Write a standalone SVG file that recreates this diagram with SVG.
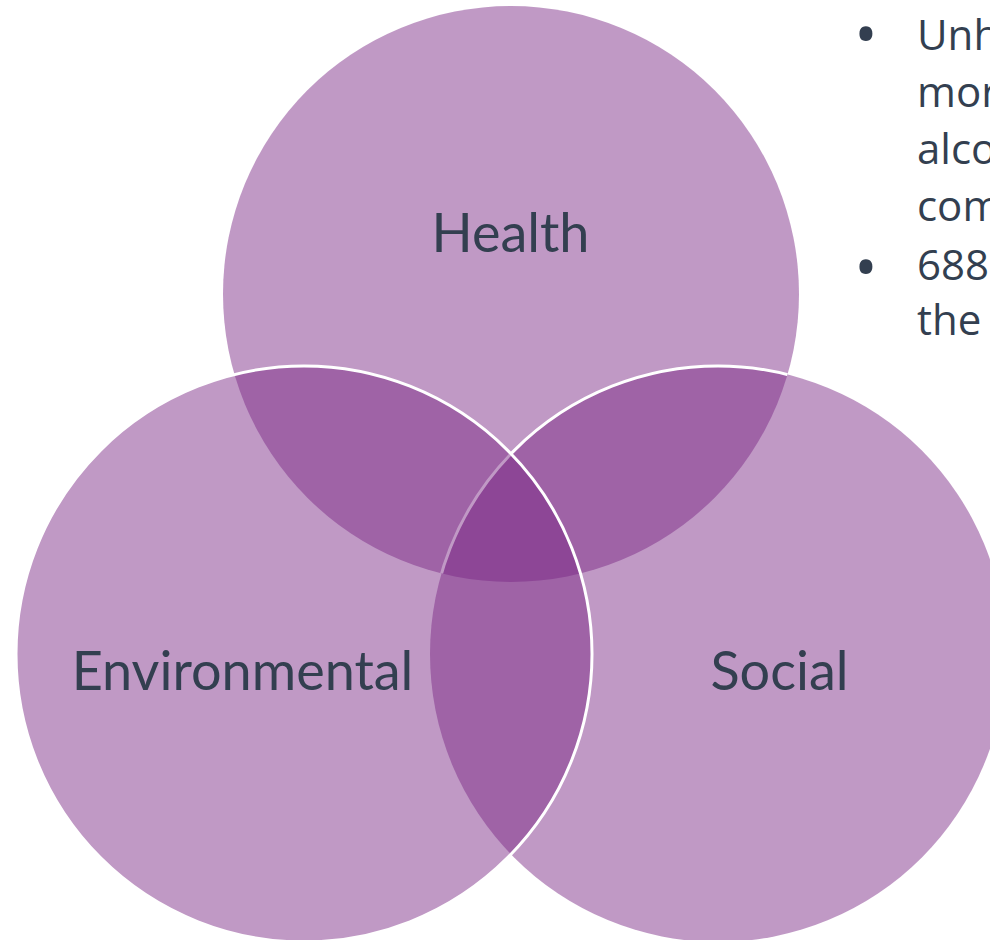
<svg xmlns="http://www.w3.org/2000/svg" width="990" height="940" viewBox="0 0 990 940">
<style>
.fill{fill:#792684;fill-opacity:0.47}
.ring{fill:none;stroke:#ffffff;stroke-width:3}
.lbl{font-family:Lato,"Open Sans",sans-serif;font-size:54px;fill:#333f50;text-anchor:middle}
.body{font-family:"Open Sans",Lato,sans-serif;font-size:42px;fill:#333f50}
.dot{font-family:"Open Sans",Lato,sans-serif;font-size:62px;fill:#333f50;text-anchor:middle}
</style>
<defs>
<clipPath id="inHealth"><circle cx="511" cy="294" r="288"/></clipPath>
</defs>
<rect width="990" height="940" fill="#ffffff"/>
<g id="health"><circle class="fill" cx="511" cy="294" r="288"/></g>
<g id="social">
<circle class="fill" cx="718" cy="654" r="288"/>
<circle class="ring" cx="718" cy="654" r="288" clip-path="url(#inHealth)"/>
</g>
<g id="environmental">
<circle class="fill" cx="304" cy="654" r="288"/>
<circle class="ring" cx="304" cy="654" r="288"/>
</g>
<g id="connectors"></g>
<g id="labels">
<text class="lbl" x="510.5" y="252">Health</text>
<text class="lbl" x="242.5" y="690">Environmental</text>
<text class="lbl" x="779.5" y="690">Social</text>
</g>
<g id="bullets">
<text class="dot" x="866" y="56">•</text>
<text class="body" x="917" y="50">Unh</text>
<text class="body" x="917" y="107">mor</text>
<text class="body" x="917" y="164">alco</text>
<text class="body" x="917" y="221">com</text>
<text class="dot" x="866" y="289">•</text>
<text class="body" x="917" y="280">688</text>
<text class="body" x="917" y="335">the</text>
</g>
</svg>
